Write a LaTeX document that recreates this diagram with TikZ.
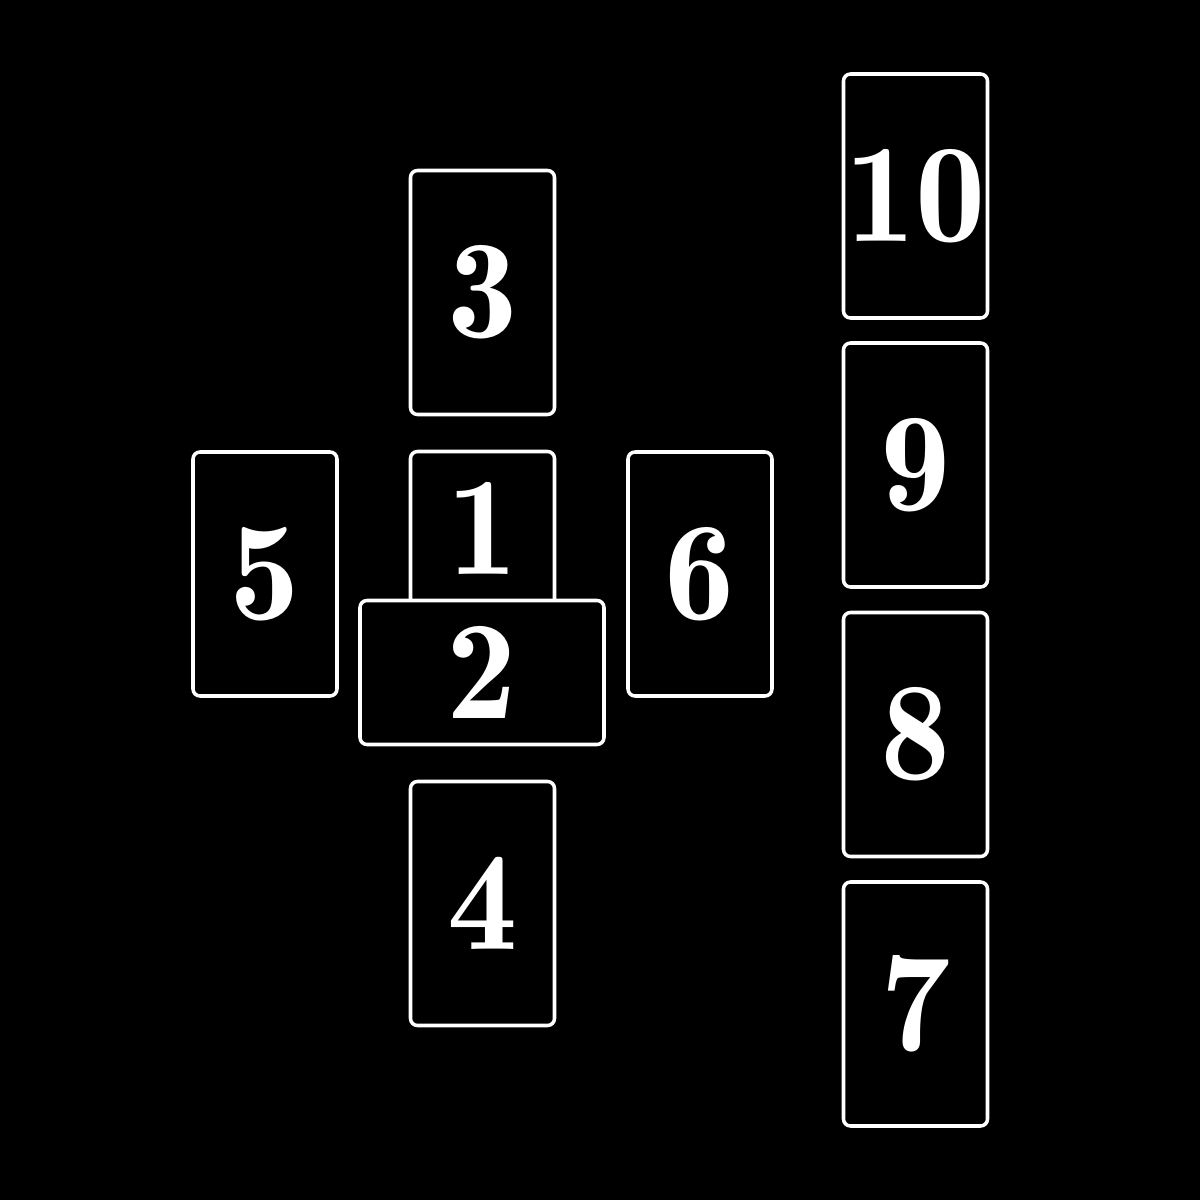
\documentclass[tikz,border=0pt]{standalone}
\usepackage{tikz}
\usetikzlibrary{positioning,calc}
\tikzstyle{card} = [rectangle,draw=white,fill=black,line width=1pt,rounded corners=0.07cm,inner sep=0pt,minimum width=1.44cm,minimum height=2.44cm,text=white,font=\fontseries{b}\fontsize{40}{48}\selectfont]
\tikzstyle{cardh} = [card,minimum width=2.44cm,minimum height=1.44cm]
\tikzstyle{num} = [text=white,inner sep=0pt,font=\fontseries{b}\fontsize{40}{48}\selectfont]

\begin{document}
\begin{tikzpicture}
	\fill[black] (0,0) rectangle (12,12);
	\useasboundingbox (0,0) rectangle (12,12);
	% croce
	\node[card] (c3) at (4.825,9.075) {3};
	\node[card] (c1) at (4.825,6.265) {};
	\node[num] (n1) at (4.825,6.72) {1};
	\node[cardh] (c2) at (4.82,5.275) {2};
	\node[card] (c5) at (2.65,6.26) {5};
	\node[card] (c6) at (7.00,6.26) {6};
	\node[card] (c4) at (4.825,2.965) {4};
	% colonna
	\node[card] (c10) at (9.155,10.04) {10};
	\node[card] (c9) at (9.155,7.35) {9};
	\node[card] (c8) at (9.155,4.655) {8};
	\node[card] (c7) at (9.155,1.96) {7};
\end{tikzpicture}
\end{document}
